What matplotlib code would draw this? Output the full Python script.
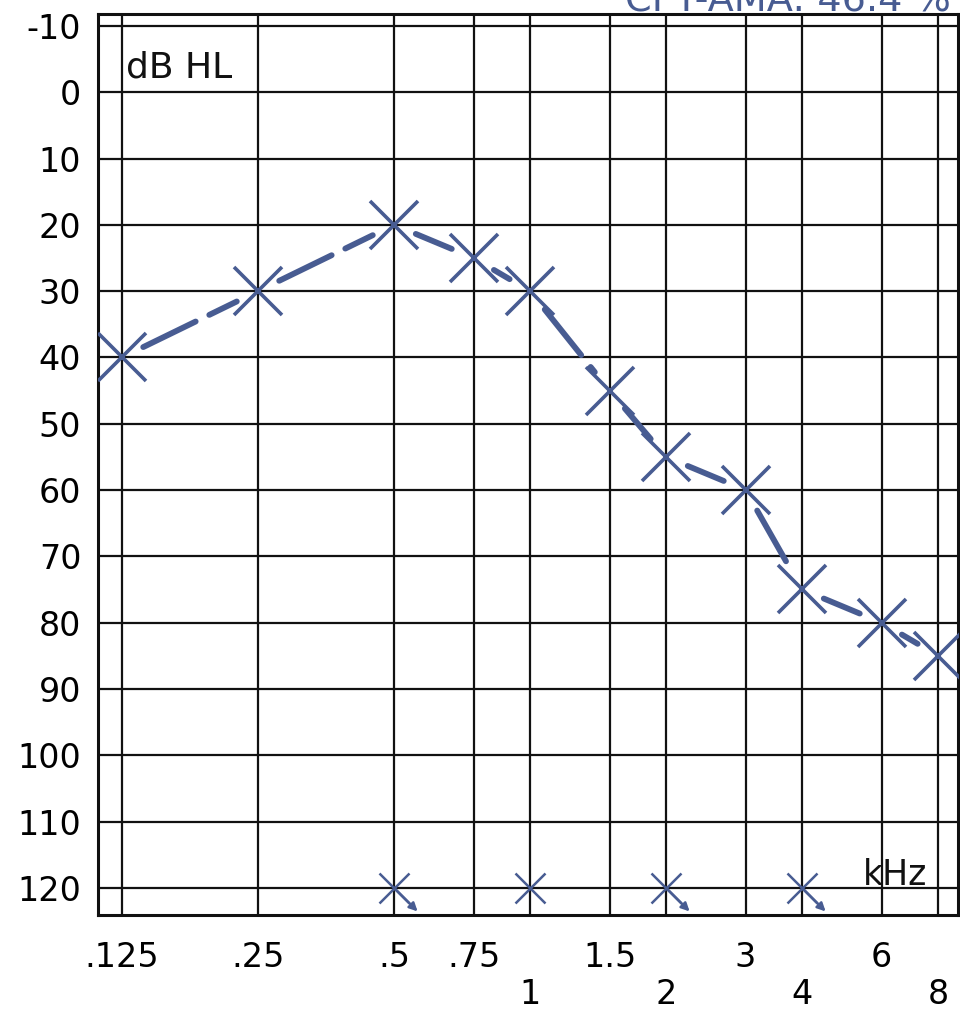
import matplotlib
matplotlib.use("Agg")
import matplotlib.pyplot as plt
import numpy as np

# ---- data ----
freqs = [0.125, 0.25, 0.5, 0.75, 1, 1.5, 2, 3, 4, 6, 8]
freq_labels = [".125", ".25", ".5", ".75", "\n1", "1.5", "\n2", "3", "\n4", "6", "\n8"]
thresholds = [40, 30, 20, 25, 30, 45, 55, 60, 75, 80, 85]
nr_freqs = [0.5, 1, 2, 4]          # no-response markers at 120 dB
nr_level = [120, 120, 120, 120]
nr_arrow = [True, False, True, True]
db_ticks = list(range(-10, 121, 10))
title_text = "CPT-AMA: 46.4 %"

blue = "#485c92"

plt.rcParams['font.family'] = ['DejaVu Sans']

fig = plt.figure(figsize=(9.6, 10.16), dpi=100)
ax = fig.add_axes([98/960, 1-915/1016, 860/960, 901/1016])

ax.set_xscale('log', base=2)
ax.set_xlim(0.125 * 2**(-24/136), 8 * 2**(20/136))
ax.set_ylim(124.1, -11.8)

ax.set_xticks(freqs)
ax.set_xticklabels(freq_labels, fontsize=24, linespacing=1.15)
ax.xaxis.set_minor_locator(matplotlib.ticker.NullLocator())
ax.set_yticks(db_ticks)
ax.set_yticklabels([str(v) for v in db_ticks], fontsize=24)
ax.tick_params(axis='both', length=0)
ax.tick_params(axis='x', pad=19)
ax.tick_params(axis='y', pad=12)
ax.grid(True, color='#111111', lw=1.6)
ax.set_axisbelow(True)
for sp in ax.spines.values():
    sp.set_linewidth(2.2)
    sp.set_color('#111111')

# connecting line segments with gaps near markers
for i in range(len(freqs) - 1):
    ax.annotate('', xy=(freqs[i+1], thresholds[i+1]), xytext=(freqs[i], thresholds[i]),
                arrowprops=dict(arrowstyle='-', color=blue, lw=4.2,
                                shrinkA=17, shrinkB=17,
                                linestyle=(0, (10, 2.6))))

ax.plot(freqs, thresholds, linestyle='none', marker='x', ms=34, mew=2.6,
        color=blue, zorder=5)

# no response markers
ax.plot(nr_freqs, nr_level, linestyle='none', marker='x', ms=22, mew=1.8,
        color=blue, zorder=5)
for f, lv, a in zip(nr_freqs, nr_level, nr_arrow):
    if a:
        ax.annotate('', xy=(f, lv), xytext=(17, -17), textcoords='offset points',
                    arrowprops=dict(arrowstyle='<|-', color=blue, lw=1.8,
                                    mutation_scale=12, shrinkA=0, shrinkB=0))

ax.text(0.1276, -2.2, "dB HL", fontsize=26, ha='left', va='baseline', color='#111111')
ax.text(5.45, 119.6, "kHz", fontsize=25, ha='left', va='baseline', color='#111111')

fig.text(625/960, 1-12/1016, title_text, fontsize=27.5, color=blue,
         ha='left', va='baseline')

fig.savefig("out.png", dpi=100, facecolor='white')
